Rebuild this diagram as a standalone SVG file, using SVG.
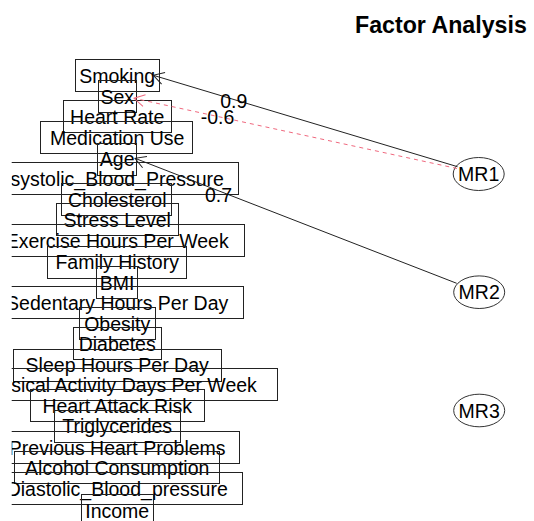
<svg xmlns="http://www.w3.org/2000/svg" width="534" height="521" viewBox="0 0 534 521">
<style>
.t{font-family:"Liberation Sans",Arial,sans-serif;font-size:19.5px;fill:#000;text-anchor:middle}
.b{fill:none;stroke:#222;stroke-width:1}
.e{fill:none;stroke:#333;stroke-width:1}
.pos{stroke:#222;stroke-width:1;fill:none}
.neg{stroke:#f0687e;stroke-width:1;stroke-dasharray:4 4;fill:none}
.title{font-family:"Liberation Sans",Arial,sans-serif;font-size:23.2px;font-weight:bold;fill:#000}
</style>
<defs>
<clipPath id="plot"><rect x="11.7" y="0" width="530" height="530"/></clipPath>
<marker id="ah" markerUnits="userSpaceOnUse" markerWidth="30" markerHeight="30" viewBox="-15 -15 30 30" refX="0" refY="0" orient="auto" overflow="visible">
<path d="M -10.5,-6 L 0,0 L -10.5,6" fill="none" stroke="#222" stroke-width="1"/>
</marker>
<marker id="ahr" markerUnits="userSpaceOnUse" markerWidth="30" markerHeight="30" viewBox="-15 -15 30 30" refX="0" refY="0" orient="auto" overflow="visible">
<path d="M -10.5,-6 L 0,0 L -10.5,6" fill="none" stroke="#f0687e" stroke-width="1"/>
</marker>
</defs>
<rect x="0" y="0" width="534" height="521" fill="#fff"/>
<text class="title" x="355" y="33.3">Factor Analysis</text>
<g id="variables" clip-path="url(#plot)">
<g id="v-smoking"><rect class="b" x="75.5" y="59.5" width="84" height="32"/><text class="t" x="117.2" y="82.5">Smoking</text></g>
<g id="v-sex"><rect class="b" x="98.5" y="80.5" width="38" height="32"/><text class="t" x="117.2" y="103.5">Sex</text></g>
<g id="v-heartrate"><rect class="b" x="63.5" y="100.5" width="108" height="32"/><text class="t" x="117.2" y="123.5">Heart Rate</text></g>
<g id="v-medication"><rect class="b" x="40.5" y="121.5" width="152" height="32"/><text class="t" x="117.2" y="144.5">Medication Use</text></g>
<g id="v-age"><rect class="b" x="97.5" y="143.5" width="39" height="32"/><text class="t" x="117.2" y="166">Age</text></g>
<g id="v-systolic"><rect class="b" x="-3.5" y="162.5" width="242" height="32"/><text class="t" x="117.2" y="185.5">systolic_Blood_Pressure</text></g>
<g id="v-cholesterol"><rect class="b" x="61.5" y="183.5" width="110" height="32"/><text class="t" x="117.2" y="206.5">Cholesterol</text></g>
<g id="v-stress"><rect class="b" x="56.5" y="203.5" width="122" height="32"/><text class="t" x="117.2" y="226.5">Stress Level</text></g>
<g id="v-exercise"><rect class="b" x="-9.5" y="224.5" width="254" height="32"/><text class="t" x="117.2" y="247.5">Exercise Hours Per Week</text></g>
<g id="v-family"><rect class="b" x="47.5" y="246.5" width="139" height="32"/><text class="t" x="117.2" y="269">Family History</text></g>
<g id="v-bmi"><rect class="b" x="96.5" y="266.5" width="41" height="32"/><text class="t" x="117.2" y="289.5">BMI</text></g>
<g id="v-sedentary"><rect class="b" x="-8.5" y="286.5" width="252" height="32"/><text class="t" x="117.2" y="309.5">Sedentary Hours Per Day</text></g>
<g id="v-obesity"><rect class="b" x="79.5" y="307.5" width="76" height="32"/><text class="t" x="117.2" y="330.5">Obesity</text></g>
<g id="v-diabetes"><rect class="b" x="73.5" y="327.5" width="88" height="32"/><text class="t" x="117.2" y="350.5">Diabetes</text></g>
<g id="v-sleep"><rect class="b" x="13.5" y="349.5" width="208" height="32"/><text class="t" x="117.2" y="372">Sleep Hours Per Day</text></g>
<g id="v-physical"><rect class="b" x="-42.5" y="368.5" width="320" height="32"/><text class="t" x="117.2" y="391.5">Physical Activity Days Per Week</text></g>
<g id="v-heartattack"><rect class="b" x="30.5" y="389.5" width="174" height="32"/><text class="t" x="117.2" y="412.5">Heart Attack Risk</text></g>
<g id="v-triglycerides"><rect class="b" x="54.5" y="410.5" width="126" height="32"/><text class="t" x="117.2" y="433">Triglycerides</text></g>
<g id="v-previous"><rect class="b" x="-4.5" y="431.5" width="244" height="32"/><text class="t" x="117.2" y="454.5">Previous Heart Problems</text></g>
<g id="v-alcohol"><rect class="b" x="14.5" y="451.5" width="205" height="32"/><text class="t" x="117.2" y="474.5">Alcohol Consumption</text></g>
<g id="v-diastolic"><rect class="b" x="-7.5" y="472.5" width="250" height="32"/><text class="t" x="117.2" y="495.5">Diastolic_Blood_pressure</text></g>
<g id="v-income"><rect class="b" x="81.5" y="494.5" width="72" height="32"/><text class="t" x="117.2" y="517.5">Income</text></g>
</g>
<g id="factors">
<g id="f-mr1"><ellipse class="e" cx="478.7" cy="174" rx="25.5" ry="16.5"/><text class="t" x="478.7" y="181">MR1</text></g>
<g id="f-mr2"><ellipse class="e" cx="479.2" cy="292.2" rx="25.5" ry="16.3"/><text class="t" x="479.2" y="299.2">MR2</text></g>
<g id="f-mr3"><ellipse class="e" cx="479.2" cy="410.5" rx="25.5" ry="16.3"/><text class="t" x="479.2" y="417.5">MR3</text></g>
</g>
<g id="connectors">
<line class="pos" x1="457.5" y1="166.7" x2="153.3" y2="75.3" marker-end="url(#ah)"/>
<line class="neg" x1="457" y1="168.5" x2="134" y2="98.3" marker-end="url(#ahr)"/>
<line class="pos" x1="456.7" y1="283.3" x2="135" y2="158.3" marker-end="url(#ah)"/>
<text class="t" x="233.7" y="108.3">0.9</text>
<text class="t" x="217.5" y="124.3">-0.6</text>
<text class="t" x="218.5" y="202.3">0.7</text>
</g>
</svg>
